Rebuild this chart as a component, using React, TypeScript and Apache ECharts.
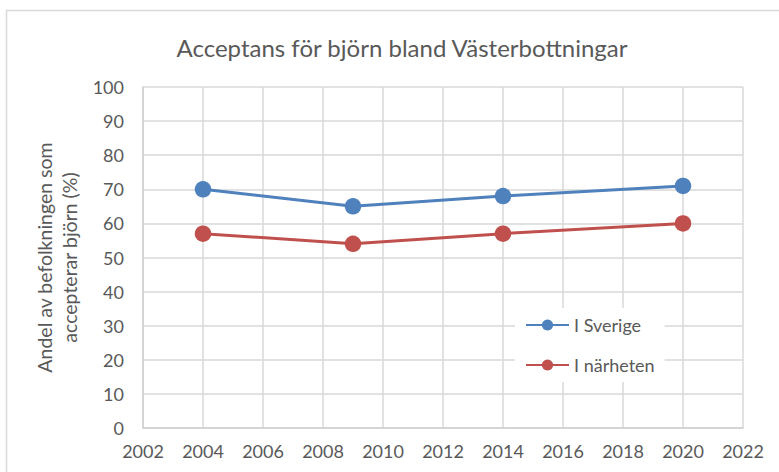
import React, { useEffect, useRef } from "react";
import * as echarts from "echarts";

const years = [2004, 2009, 2014, 2020];
const iSverige = [70, 65, 68, 71];
const iNarheten = [57, 54, 57, 60];
const seriesNames = ["I Sverige", "I närheten"];
const titleText = "Acceptans för björn bland Västerbottningar";
const yAxisName = "Andel av befolkningen som\naccepterar björn (%)";

const FONT = "Lato, 'Open Sans', sans-serif";
const TEXT = "#595959";

export default function App() {
  const ref = useRef<HTMLDivElement>(null);
  useEffect(() => {
    if (!ref.current) return;
    const chart = echarts.init(ref.current, null, { renderer: "svg" });
    const mk = (xs: number[], ys: number[]) => xs.map((x, i) => [x, ys[i]]);
    chart.setOption({
      animation: false,
      backgroundColor: "#ffffff",
      textStyle: { fontFamily: FONT },
      graphic: [
        {
          type: "rect",
          shape: { x: 6.5, y: 10.5, width: 800, height: 500 },
          style: { fill: "none", stroke: "#d9d9d9", lineWidth: 1.5 },
          silent: true,
        },
      ],
      title: {
        text: titleText,
        left: 397,
        textAlign: "center",
        top: 30,
        textStyle: { fontFamily: FONT, fontSize: 24, fontWeight: "normal", color: TEXT },
      },
      grid: { left: 143, right: 36, top: 87, bottom: 44, containLabel: false },
      legend: {
        orient: "vertical",
        left: 515,
        top: 308,
        padding: [8, 10, 8, 10],
        backgroundColor: "#ffffff",
        itemWidth: 43,
        itemHeight: 14,
        itemGap: 22,
        data: seriesNames,
        textStyle: { fontFamily: FONT, fontSize: 18, color: TEXT },
      },
      xAxis: {
        type: "value",
        min: 2002,
        max: 2022,
        interval: 2,
        axisLine: { show: true, lineStyle: { color: "#d0d0d0", width: 1.5 } },
        axisTick: { show: false },
        axisLabel: {
          color: TEXT,
          fontSize: 18,
          fontFamily: FONT,
          margin: 14,
          formatter: (v: number) => String(v),
        },
        splitLine: { show: true, lineStyle: { color: "#d9d9d9", width: 1.5 } },
      },
      yAxis: {
        type: "value",
        min: 0,
        max: 100,
        interval: 10,
        name: yAxisName,
        nameLocation: "middle",
        nameGap: 60,
        nameRotate: 90,
        nameTextStyle: { color: TEXT, fontSize: 19.5, fontFamily: FONT, lineHeight: 25 },
        axisLine: { show: true, lineStyle: { color: "#d0d0d0", width: 1.5 } },
        axisTick: { show: false },
        axisLabel: { color: TEXT, fontSize: 18, fontFamily: FONT, margin: 19 },
        splitLine: { show: true, lineStyle: { color: "#d9d9d9", width: 1.5 } },
      },
      series: [
        {
          name: seriesNames[0],
          type: "line",
          data: mk(years, iSverige),
          symbol: "circle",
          symbolSize: 16.5,
          color: "#4f81bd",
          lineStyle: { width: 3, color: "#4f81bd" },
          itemStyle: { color: "#4f81bd" },
        },
        {
          name: seriesNames[1],
          type: "line",
          data: mk(years, iNarheten),
          symbol: "circle",
          symbolSize: 16.5,
          color: "#c0504d",
          lineStyle: { width: 3, color: "#c0504d" },
          itemStyle: { color: "#c0504d" },
        },
      ],
    });
    return () => chart.dispose();
  }, []);
  return (
    <div
      ref={ref}
      style={{ position: "fixed", left: 0, top: 0, width: 779, height: 472 }}
    />
  );
}
